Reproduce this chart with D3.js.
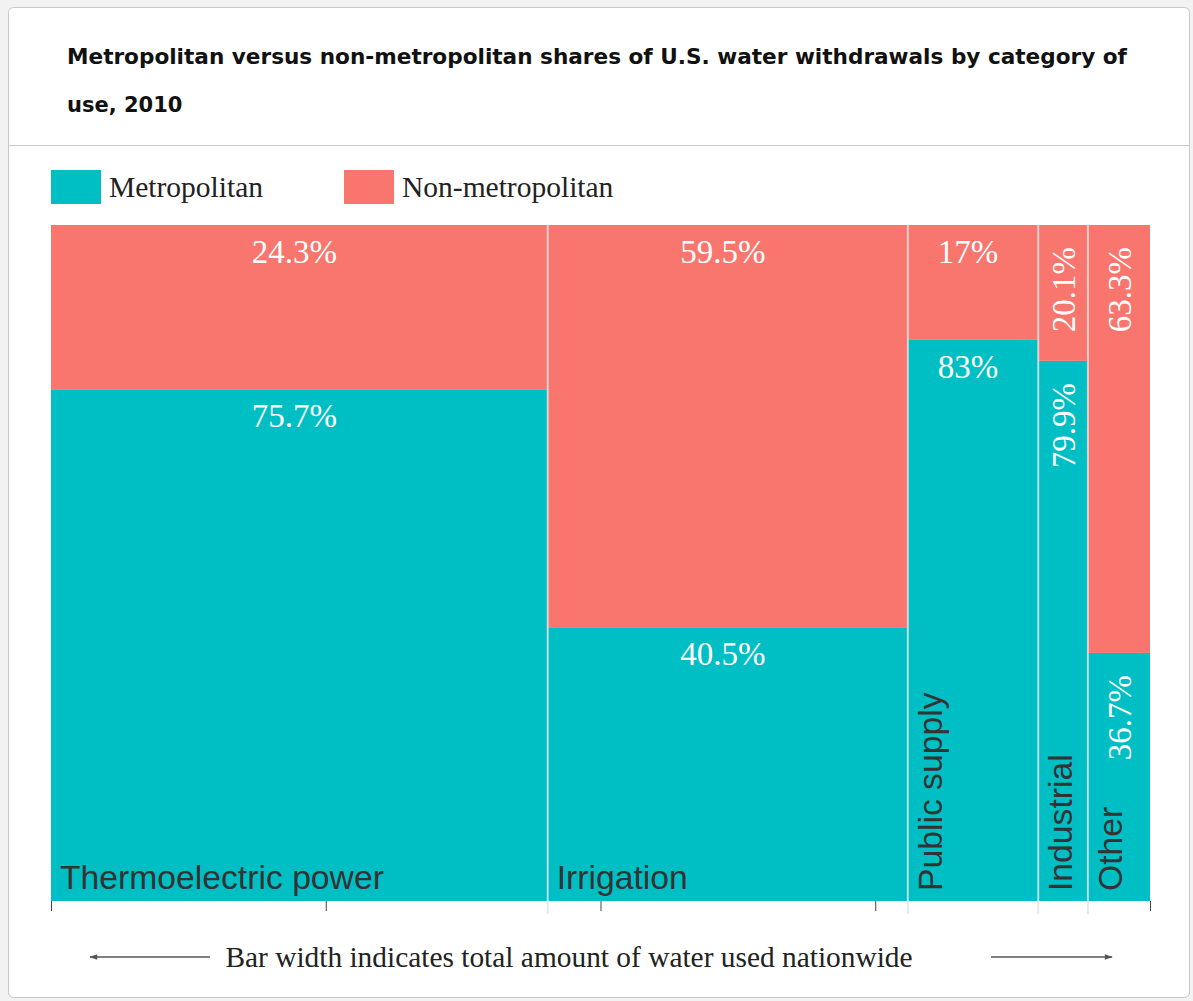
<!DOCTYPE html>
<html>
<head>
<meta charset="utf-8">
<script src="https://cdn.jsdelivr.net/npm/d3@7"></script>
<style>
  html, body { margin: 0; padding: 0; background: #f2f2f2; }
  svg { display: block; }
</style>
</head>
<body>
<svg id="chart" width="1193" height="1001"></svg>
<script>
// ---- data ----
const categories = ["Thermoelectric power", "Irrigation", "Public supply", "Industrial", "Other"];
const totalWithdrawals = [160, 116, 42, 16, 20];   // billion gallons per day (bar width)
const metroShare = [75.7, 40.5, 83, 79.9, 36.7];   // percent
const nonMetroShare = [24.3, 59.5, 17, 20.1, 63.3]; // percent
const seriesNames = ["Metropolitan", "Non-metropolitan"];
const xTicks = [0, 0.25, 0.5, 0.75, 1];

const colors = { "Metropolitan": "#00BFC4", "Non-metropolitan": "#F8766D" };

const svg = d3.select("#chart");

// card
svg.append("rect").attr("x", 8.5).attr("y", 7.5).attr("width", 1181).attr("height", 990)
  .attr("rx", 5).attr("fill", "#fff").attr("stroke", "#c8c8c8");
svg.append("line").attr("x1", 9).attr("x2", 1189).attr("y1", 145.5).attr("y2", 145.5)
  .attr("stroke", "#c8c8c8");

// title
const titleFont = "DejaVu Sans, Verdana, sans-serif";
const title1 = svg.append("text").attr("x", 67).attr("y", 64)
  .attr("font-family", titleFont).attr("font-weight", "bold")
  .attr("font-size", 21).attr("fill", "#111")
  .text("Metropolitan versus non-metropolitan shares of U.S. water withdrawals by category of");
title1.attr("textLength", 1060).attr("lengthAdjust", "spacingAndGlyphs");
svg.append("text").attr("x", 67).attr("y", 112)
  .attr("font-family", titleFont).attr("font-weight", "bold")
  .attr("font-size", 21).attr("fill", "#111")
  .text("use, 2010");

// legend
const legendX = [51, 344];
seriesNames.forEach((s, i) => {
  svg.append("rect").attr("x", legendX[i]).attr("y", 170).attr("width", 50).attr("height", 34)
    .attr("fill", colors[s]);
  svg.append("text").attr("x", legendX[i] + 58).attr("y", 197)
    .attr("font-family", "Liberation Serif, Times New Roman, serif").attr("font-size", 29.5)
    .attr("fill", "#222").text(s);
});

// scales
const plotLeft = 51, plotRight = 1150, plotTop = 225, plotBottom = 901;
const total = d3.sum(totalWithdrawals);
const cum = [0];
totalWithdrawals.forEach((v, i) => cum.push(cum[i] + v / total));
const x = d3.scaleLinear().domain([0, 1]).range([plotLeft, plotRight]);
const y = d3.scaleLinear().domain([0, 100]).range([plotBottom, plotTop]);

const data = categories.map((c, i) => ({
  cat: c, x0: cum[i], x1: cum[i + 1], metro: metroShare[i], non: nonMetroShare[i]
}));

const g = svg.append("g");
// metro segments
g.selectAll("rect.metro").data(data).join("rect").attr("class", "metro")
  .attr("x", d => x(d.x0)).attr("width", d => x(d.x1) - x(d.x0))
  .attr("y", d => y(d.metro)).attr("height", d => y(0) - y(d.metro))
  .attr("fill", colors["Metropolitan"]);
// non-metro segments
g.selectAll("rect.non").data(data).join("rect").attr("class", "non")
  .attr("x", d => x(d.x0)).attr("width", d => x(d.x1) - x(d.x0))
  .attr("y", y(100)).attr("height", d => y(d.metro) - y(100))
  .attr("fill", colors["Non-metropolitan"]);

// separators
g.selectAll("line.sep").data(data.slice(1)).join("line").attr("class", "sep")
  .attr("x1", d => x(d.x0)).attr("x2", d => x(d.x0))
  .attr("y1", plotTop).attr("y2", plotBottom + 13)
  .attr("stroke", "rgba(228,228,228,0.8)").attr("stroke-width", 2);

// axis ticks
const axis = d3.axisBottom(x).tickValues(xTicks).tickSize(10).tickFormat("");
const ax = svg.append("g").attr("transform", `translate(0,${plotBottom})`).call(axis);
ax.select(".domain").remove();
ax.selectAll(".tick line").attr("stroke", "#444");

// percentage labels
const pctFont = "Liberation Serif, Times New Roman, serif";
const fmt = v => v + "%";
data.forEach(d => {
  const w = x(d.x1) - x(d.x0);
  const cx = (x(d.x0) + x(d.x1)) / 2;
  const segs = [{ v: d.non, topY: y(100) }, { v: d.metro, topY: y(d.metro) }];
  segs.forEach(s => {
    const t = g.append("text").attr("fill", "#fff").attr("font-family", pctFont)
      .attr("font-size", 33).text(fmt(s.v));
    if (w < 100) {
      t.attr("text-anchor", "end").attr("dominant-baseline", "central")
        .attr("transform", `translate(${cx + 1},${s.topY + 22}) rotate(-90)`);
    } else {
      t.attr("text-anchor", "middle").attr("x", cx - 5).attr("y", s.topY + 38);
    }
  });
  // category labels
  const c = g.append("text").attr("fill", "#333")
    .attr("font-family", "Liberation Sans, Arial, sans-serif").attr("font-size", 33.7).text(d.cat);
  if (w < 200) {
    c.attr("transform", `translate(${x(d.x0) + 34},${plotBottom - 10}) rotate(-90)`);
  } else {
    c.attr("x", x(d.x0) + 9).attr("y", plotBottom - 12);
  }
});

// bottom note with arrows
const defs = svg.append("defs");
defs.append("marker").attr("id", "arr").attr("viewBox", "0 0 10 10").attr("refX", 9).attr("refY", 5)
  .attr("markerWidth", 10).attr("markerHeight", 8).attr("orient", "auto-start-reverse")
  .attr("markerUnits", "userSpaceOnUse")
  .append("path").attr("d", "M0,1.5 L10,5 L0,8.5 Z").attr("fill", "#555");
svg.append("line").attr("x1", 210).attr("x2", 90).attr("y1", 957).attr("y2", 957)
  .attr("stroke", "#555").attr("stroke-width", 1.5).attr("marker-end", "url(#arr)");
svg.append("line").attr("x1", 991).attr("x2", 1112).attr("y1", 957).attr("y2", 957)
  .attr("stroke", "#555").attr("stroke-width", 1.5).attr("marker-end", "url(#arr)");
svg.append("text").attr("x", 569).attr("y", 967).attr("text-anchor", "middle")
  .attr("font-family", pctFont).attr("font-size", 29.4).attr("fill", "#222")
  .text("Bar width indicates total amount of water used nationwide");
</script>
</body>
</html>
